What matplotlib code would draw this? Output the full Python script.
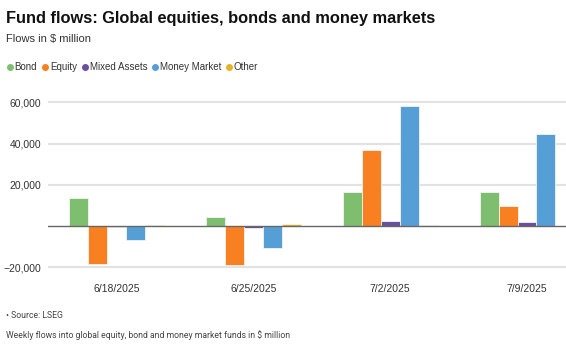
import numpy as np
import matplotlib.pyplot as plt
from matplotlib.lines import Line2D

# dados (US$ milhões)
semanas = ['6/18/2025', '6/25/2025', '7/2/2025', '7/9/2025']
bond = [13400, 4200, 16400, 16400]
equity = [-18600, -19100, 36900, 9700]
mixed = [-500, -1100, 2300, 1900]
money_market = [-6800, -10800, 58100, 44500]
other = [600, 1000, 300, 200]

series = ['Bond', 'Equity', 'Mixed Assets', 'Money Market', 'Other']
cores = ['#7dbf6e', '#f98020', '#6a4ea0', '#569fd6', '#e6b422']
valores = [bond, equity, mixed, money_market, other]

plt.rcParams['font.family'] = ['Liberation Sans', 'DejaVu Sans']

fig = plt.figure(figsize=(5.66, 3.44), dpi=100)
ax = fig.add_axes([48 / 566, 0.2113, 1 - 48 / 566, 0.509])

x = np.arange(len(semanas))
largura = 19 / 137
for i, (nome, vals, cor) in enumerate(zip(series, valores, cores)):
    ax.bar(x + (i - 2) * largura, vals, largura, color=cor, label=nome,
           edgecolor='#f4f4f4', linewidth=0.6, zorder=3)

ax.set_xlim(-0.5, 3.285)
ax.set_ylim(-22000, 63000)
ax.set_yticks([-20000, 20000, 40000, 60000])
ax.set_yticklabels(['\u221220,000', '20,000', '40,000', '60,000'])
ax.yaxis.grid(True, color='#e2e2e2', linewidth=1.5, zorder=0)
ax.axhline(0, color='#666666', linewidth=1, zorder=4)
ax.set_xticks(x)
ax.set_xticklabels(semanas)
ax.tick_params(axis='both', length=0, labelsize=7.5, labelcolor='#333333')
ax.tick_params(axis='x', pad=9)
ax.tick_params(axis='y', pad=5)
for s in ax.spines.values():
    s.set_visible(False)

# títulos
fig.text(6 / 566, 1 - 18 / 344, 'Fund flows: Global equities, bonds and money markets',
         fontsize=11.8, fontweight='bold', va='center', ha='left', color='#111111')
fig.text(6 / 566, 1 - 39 / 344, 'Flows in $ million', fontsize=8, va='center',
         ha='left', color='#333333')

# legenda
handles = [Line2D([], [], marker='o', linestyle='', color=c, markersize=4) for c in cores]
fig.legend(handles, series, loc='center left', bbox_to_anchor=(0.002, 1 - 67 / 344),
           ncol=5, frameon=False, fontsize=7, handletextpad=0.0, columnspacing=0.3,
           borderaxespad=0, handlelength=1.0, labelcolor='#333333')

# rodapé
fig.text(6 / 566, 1 - 316 / 344, '\u2022 Source: LSEG', fontsize=6.2, va='center',
         ha='left', color='#444444', family=['Roboto', 'DejaVu Sans'])
fig.text(6 / 566, 1 - 335 / 344,
         'Weekly flows into global equity, bond and money market funds in $ million',
         fontsize=6.2, va='center', ha='left', color='#444444', family=['Roboto', 'DejaVu Sans'])

fig.savefig('out.png', dpi=100)
